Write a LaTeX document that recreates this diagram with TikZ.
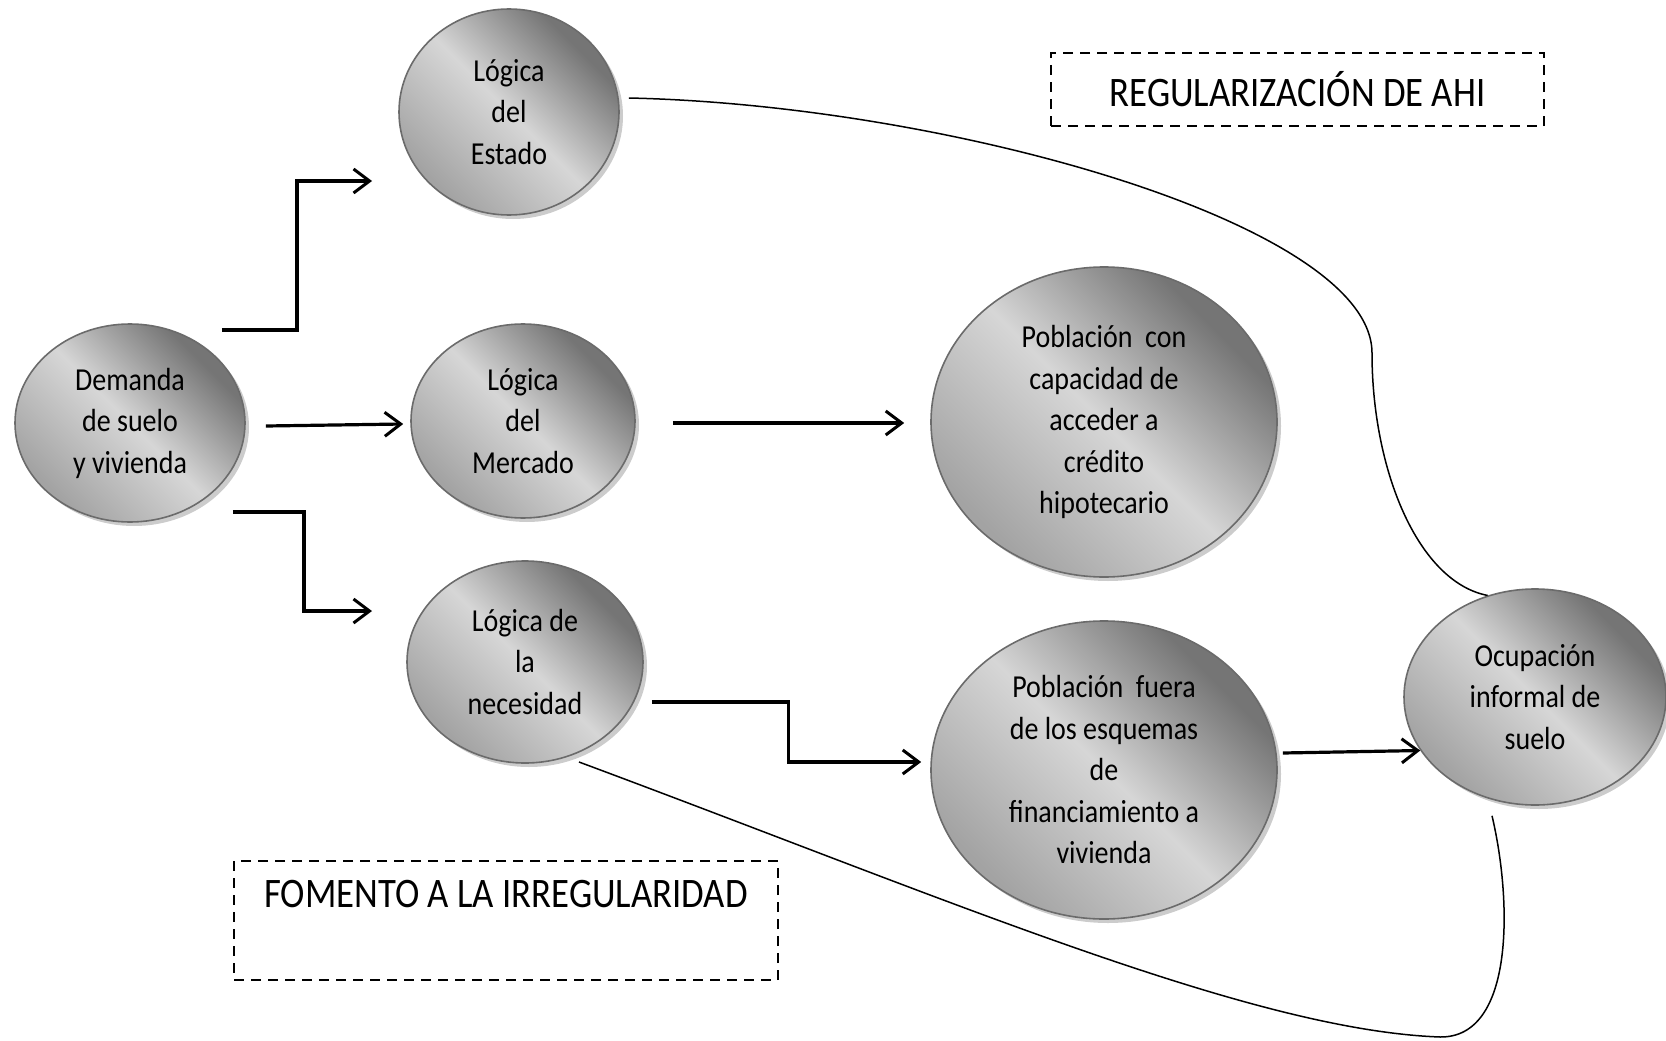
\documentclass[tikz,border=0pt]{standalone}
\usepackage{fontspec}
\setmainfont{Carlito}[FakeStretch=0.875]
\usetikzlibrary{shapes.geometric,arrows.meta,shadows,calc}

\definecolor{orbdark}{gray}{0.46}
\definecolor{orbmid}{gray}{0.64}
\definecolor{orblight}{gray}{0.84}
\definecolor{orbline}{gray}{0.42}
\pgfdeclarehorizontalshading{orb}{100bp}{color(0bp)=(orbmid); color(26bp)=(orbmid); color(50bp)=(orblight); color(72bp)=(orbdark); color(100bp)=(orbdark)}

\tikzset{
  orbnode/.style={ellipse, draw=orbline, line width=1.6pt, shading=orb, shading angle=45,
    inner sep=0pt, align=center, font=\fontsize{32}{41.5}\selectfont,
    drop shadow={shadow xshift=4pt, shadow yshift=-4pt, opacity=0.2, fill=black}},
  flow/.style={line width=3.2pt, -{Straight Barb[length=16pt,width=24pt,line width=3pt]}},
  thinlink/.style={line width=1.5pt},
  dashbox/.style={draw, dash pattern=on 10pt off 7pt, line width=2pt, inner sep=0pt},
  boxtext/.style={font=\fontsize{42}{50}\selectfont, inner sep=0pt}
}

\begin{document}
\begin{tikzpicture}[x=1pt, y=-1pt]
\useasboundingbox (0,0) rectangle (1666,1041);

% circles
\node[orbnode, minimum width=230, minimum height=198] (demanda) at (130,423) {Demanda\\de suelo\\y vivienda};
\node[orbnode, minimum width=220, minimum height=206] (estado) at (509,112) {Lógica\\del\\Estado};
\node[orbnode, minimum width=224, minimum height=194] (mercado) at (523,421) {Lógica\\del\\Mercado};
\node[orbnode, minimum width=236, minimum height=202] (necesidad) at (525,662) {Lógica de\\la\\necesidad};
\node[orbnode, minimum width=346, minimum height=310] (pcon) at (1104,422) {Población~~con\\capacidad de\\acceder a\\crédito\\hipotecario};
\node[orbnode, minimum width=346, minimum height=298] (pfuera) at (1104,770) {Población~~fuera\\de los esquemas\\de\\financiamiento a\\vivienda};
\node[orbnode, minimum width=262, minimum height=216] (ocupa) at (1535,697) {Ocupación\\informal de\\suelo};

% dashed labels
\node[dashbox, minimum width=493, minimum height=73] (regbox) at (1297.5,89.5) {};
\node[boxtext] (regtext) at (regbox.center) {REGULARIZACIÓN DE AHI};
\node[dashbox, minimum width=544, minimum height=119, anchor=north west] (fombox) at (233,860) {};
\node[boxtext] (fomtext) at ([yshift=-34pt]fombox.north) {FOMENTO A LA IRREGULARIDAD};

% arrow ends
\coordinate (toEstado) at (372,181);
\coordinate (toNec) at (372,611);

% arrows
\draw[flow] ([xshift=-24pt,yshift=93pt]demanda.east) -| ([xshift=-75pt]toEstado) -- (toEstado);
\draw[flow] ([xshift=20pt,yshift=-3pt]demanda.east) -- ([xshift=-7pt,yshift=-3pt]mercado.west);
\draw[flow] ([xshift=-13pt,yshift=-89pt]demanda.east) -| ([xshift=-68pt]toNec) -- (toNec);
\draw[flow] ([xshift=37pt,yshift=-2pt]mercado.east) -- ([xshift=-26pt,yshift=-1pt]pcon.west);
\draw[flow] ([xshift=8pt,yshift=-40pt]necesidad.east) -- ++(137,0) |- ([xshift=-9pt,yshift=8pt]pfuera.west);
\draw[flow] ([xshift=5pt,yshift=17pt]pfuera.east) -- (ocupa.205);

% thin links
\draw[thinlink] ([xshift=9pt,yshift=14pt]estado.east)
  .. controls (950,105) and (1372,225) .. (1372,353)
  .. controls (1372,470) and (1418,582) .. (ocupa.115.5);
\draw[thinlink] ([xshift=54pt,yshift=-100pt]necesidad.center)
  .. controls (950,900) and (1250,1030) .. (1440,1037)
  .. controls (1515,1038) and (1512,900) .. ([xshift=-43pt,yshift=-10pt]ocupa.south);
\end{tikzpicture}
\end{document}
